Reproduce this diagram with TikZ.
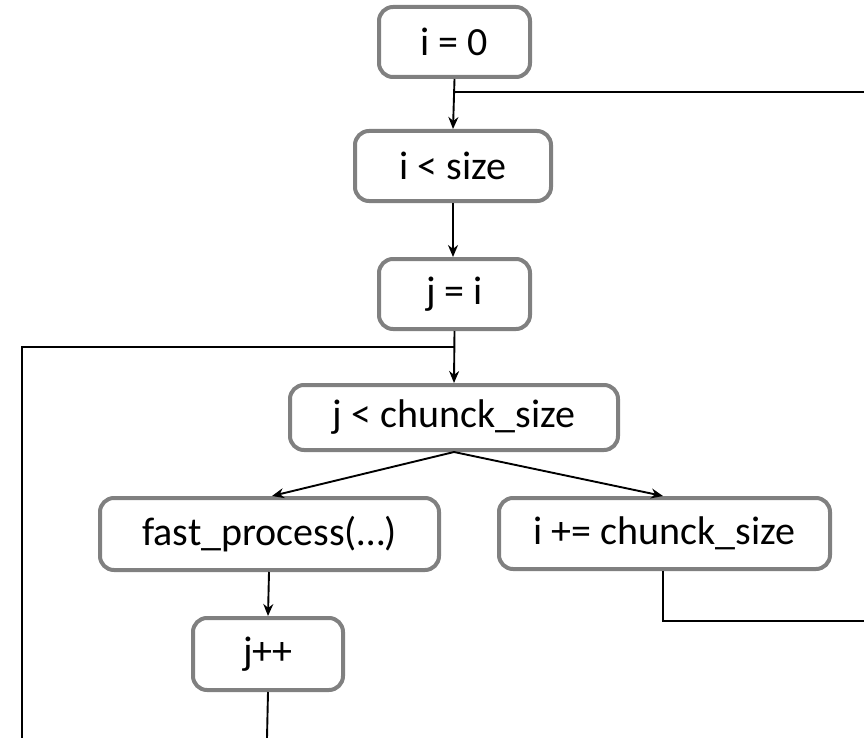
\documentclass[tikz,border=0pt]{standalone}
\usepackage{fontspec}
\setmainfont{Carlito}
\usetikzlibrary{arrows.meta}
\begin{document}
\begin{tikzpicture}[x=1pt,y=-1pt,
  box/.style={draw=black!50, line width=4pt, rounded corners=14pt, fill=white,
    inner sep=0pt, align=center, font=\fontsize{40}{46}\selectfont},
  conn/.style={line width=1.9pt, black},
  arr/.style={conn, -{Stealth[length=12pt,width=10pt]}}]
\useasboundingbox (0,0) rectangle (864,738);
\node[box, minimum width=151pt, minimum height=70pt] (a) at (454.5,42) {i = 0};
\node[box, minimum width=196pt, minimum height=70pt] (b) at (453,166) {i < size};
\node[box, minimum width=151pt, minimum height=70pt] (c) at (454.5,294) {j = i};
\node[box, minimum width=328pt, minimum height=65pt] (d) at (454,417.5) {j < chunck\_size};
\node[box, minimum width=339pt, minimum height=72pt] (e) at (269.5,534) {fast\_process(…)};
\node[box, minimum width=331pt, minimum height=71pt] (f) at (664.5,533.5) {i += chunck\_size};
\node[box, minimum width=150pt, minimum height=72pt] (g) at (268,654) {j++};
\coordinate (r1) at (864,92);
\coordinate (r2) at (864,621);
\coordinate (l1) at (22,738);
\coordinate (bot) at (267,738);
\draw[arr] (a.south) -- (b.north);
\draw[conn] (454.5,92) -- (r1);
\draw[arr] (b.south) -- (b.south |- c.north);
\draw[arr] (c.south) -- (d.north);
\draw[conn] (454.5,347) -| (l1);
\draw[arr] (d.south) -- (272,496);
\draw[arr] (d.south) -- (663,496);
\draw[conn] (663,571) |- (r2);
\draw[arr] (269,572) -- (g.north);
\draw[conn] (g.south) -- (bot);
\end{tikzpicture}
\end{document}
